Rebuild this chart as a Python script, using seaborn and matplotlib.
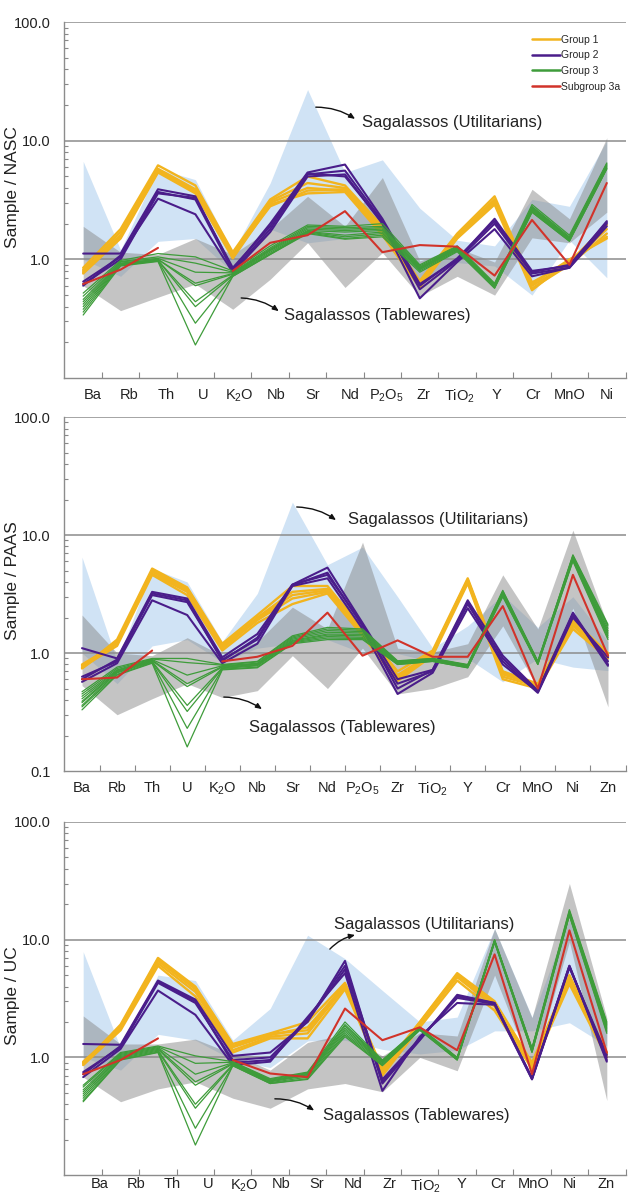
import numpy as np
import pandas as pd
import matplotlib
matplotlib.use('Agg')
import matplotlib.pyplot as plt
import seaborn as sns
from matplotlib.lines import Line2D

# --- element lists (one per normalisation) ---
el_nasc = ['Ba', 'Rb', 'Th', 'U', 'K2O', 'Nb', 'Sr', 'Nd', 'P2O5', 'Zr', 'TiO2', 'Y', 'Cr', 'MnO', 'Ni']
el_paas = ['Ba', 'Rb', 'Th', 'U', 'K2O', 'Nb', 'Sr', 'Nd', 'P2O5', 'Zr', 'TiO2', 'Y', 'Cr', 'MnO', 'Ni', 'Zn']
el_uc = ['Ba', 'Rb', 'Th', 'U', 'K2O', 'Nb', 'Sr', 'Nd', 'Zr', 'TiO2', 'Y', 'Cr', 'MnO', 'Ni', 'Zn']

tick_names = {'K2O': r'$\mathrm{K_2O}$', 'P2O5': r'$\mathrm{P_2O_5}$', 'TiO2': r'$\mathrm{TiO_2}$'}

nan = np.nan

# --- reference fields (Sagalassos) ---
util_hi_nasc = [6.7, 1.2, 5.8, 4.7, 1.15, 4.4, 27, 5.4, 6.9, 2.7, 1.45, 1.3, 3.2, 2.8, 10.0]
util_lo_nasc = [1.0, 0.72, 1.42, 1.5, 0.78, 1.8, 1.38, 1.5, 1.7, 0.66, 0.94, 0.88, 0.5, 1.45, 0.7]
table_hi_nasc = [1.9, 1.15, 1.1, 1.5, 1.1, 1.8, 3.4, 1.9, 4.9, 0.97, 1.25, 0.95, 3.9, 2.2, 10.6]
table_lo_nasc = [0.6, 0.37, 0.48, 0.62, 0.38, 0.68, 1.38, 0.58, 1.14, 0.49, 0.72, 0.5, 1.52, 1.38, 2.5]

util_hi_paas = [6.5, 0.85, 5.2, 4.0, 1.25, 3.2, 19, 5.6, 7.9, 3.0, 1.1, 1.7, 3.1, 1.65, 3.0, 1.25]
util_lo_paas = [1.0, 0.55, 1.15, 1.3, 0.84, 1.1, 1.2, 1.3, 1.0, 0.99, 0.84, 0.9, 0.57, 0.9, 0.76, 0.71]
table_hi_paas = [2.1, 1.0, 0.95, 1.35, 0.95, 1.25, 2.45, 1.6, 8.7, 1.1, 1.02, 1.2, 4.6, 1.6, 11, 1.7]
table_lo_paas = [0.53, 0.3, 0.41, 0.55, 0.42, 0.48, 0.95, 0.5, 1.1, 0.45, 0.5, 0.63, 1.7, 0.5, 2.4, 0.35]

util_hi_uc = [7.9, 1.2, 5.0, 4.5, 1.4, 2.6, 10.9, 6.9, 3.7, 2.0, 2.2, 12.4, 2.2, 15, 2.0]
util_lo_uc = [1.0, 0.78, 1.57, 1.4, 0.95, 0.82, 1.38, 1.4, 1.17, 1.07, 1.15, 1.68, 1.68, 1.97, 1.25]
table_hi_uc = [2.25, 1.3, 1.3, 1.43, 1.07, 0.78, 1.34, 1.57, 1.03, 1.62, 1.52, 12.4, 2.17, 30, 2.17]
table_lo_uc = [0.68, 0.42, 0.54, 0.62, 0.45, 0.37, 0.54, 0.6, 0.51, 1.0, 0.77, 5.0, 0.77, 9.6, 0.43]

# --- samples, NASC normalised ---
g1_nasc = [
    [0.85, 1.8, 6.2, 4.2, 1.15, 3.2, 5.0, 4.2, 1.9, 0.66, 1.65, 3.4, 0.64, 0.95, 1.95],
    [0.80, 1.7, 5.8, 3.9, 1.10, 3.1, 4.4, 4.0, 1.8, 0.62, 1.60, 3.2, 0.60, 0.92, 1.80],
    [0.78, 1.6, 5.5, 3.7, 1.05, 3.0, 4.0, 3.8, 1.7, 0.60, 1.55, 3.0, 0.57, 0.90, 1.65],
    [0.76, 1.5, 5.4, 3.6, 1.02, 2.9, 3.6, 3.7, 1.6, 0.58, 1.50, 2.9, 0.55, 0.97, 1.55],
    [0.82, 1.55, 5.6, 3.8, 1.08, 2.8, 3.8, 3.9, 1.75, 0.64, 1.52, 3.1, 0.62, 1.0, 1.50],
]
g2_nasc = [
    [1.12, 1.12, 3.9, 3.4, 0.82, 2.0, 5.4, 6.3, 2.2, 0.62, 1.0, 2.2, 0.80, 0.88, 2.1],
    [0.65, 1.05, 3.7, 3.2, 0.80, 1.8, 5.2, 5.6, 2.1, 0.56, 0.98, 2.0, 0.76, 0.85, 2.0],
    [0.60, 1.08, 3.25, 2.4, 0.78, 1.7, 5.0, 5.2, 2.0, 0.47, 0.95, 1.8, 0.72, 0.85, 1.9],
    [0.62, 1.00, 3.6, 3.3, 0.85, 1.9, 5.3, 5.0, 2.05, 0.60, 1.02, 2.1, 0.78, 0.90, 2.05],
]
g3_nasc = [
    [0.52, 0.98, 1.12, 1.05, 0.80, 1.30, 1.95, 1.90, 2.00, 0.90, 1.30, 0.63, 2.90, 1.60, 6.5],
    [0.49, 0.96, 1.05, 0.93, 0.78, 1.25, 1.90, 1.85, 1.90, 0.88, 1.28, 0.62, 2.80, 1.55, 6.4],
    [0.46, 0.95, 1.02, 0.78, 0.77, 1.22, 1.85, 1.80, 1.85, 0.86, 1.26, 0.61, 2.75, 1.52, 6.3],
    [0.44, 0.93, 1.00, 0.63, 0.76, 1.20, 1.80, 1.75, 1.80, 0.85, 1.25, 0.60, 2.70, 1.50, 6.2],
    [0.42, 0.92, 1.00, 0.60, 0.75, 1.18, 1.75, 1.70, 1.75, 0.84, 1.24, 0.60, 2.65, 1.48, 6.1],
    [0.40, 0.91, 0.98, 0.44, 0.74, 1.15, 1.72, 1.60, 1.70, 0.83, 1.22, 0.59, 2.60, 1.46, 6.0],
    [0.38, 0.90, 0.98, 0.40, 0.73, 1.12, 1.70, 1.55, 1.65, 0.82, 1.20, 0.58, 2.55, 1.45, 5.9],
    [0.36, 0.89, 0.97, 0.29, 0.72, 1.10, 1.68, 1.50, 1.60, 0.80, 1.18, 0.58, 2.50, 1.43, 5.8],
    [0.34, 0.88, 0.96, 0.19, 0.72, 1.10, 1.65, 1.48, 1.55, 0.78, 1.16, 0.57, 2.50, 1.42, 5.8],
]
g3a_nasc = [[0.62, 0.82, 1.25, nan, 0.80, 1.38, 1.6, 2.55, 1.15, 1.32, 1.28, 0.73, 2.15, 0.90, 4.4]]

# --- samples, PAAS normalised ---
g1_paas = [
    [0.75, 1.30, 5.2, 3.6, 1.20, 2.10, 3.7, 3.7, 1.60, 0.70, 1.05, 4.3, 0.70, 0.55, 1.90, 1.00],
    [0.78, 1.25, 4.9, 3.4, 1.15, 2.00, 3.3, 3.5, 1.55, 0.65, 1.00, 4.1, 0.66, 0.53, 1.80, 0.96],
    [0.80, 1.20, 4.7, 3.3, 1.10, 1.90, 2.9, 3.3, 1.50, 0.62, 0.98, 4.0, 0.63, 0.52, 1.70, 0.93],
    [0.76, 1.15, 4.6, 3.1, 1.05, 1.80, 2.6, 3.2, 1.40, 0.58, 0.95, 3.9, 0.60, 0.50, 1.60, 0.90],
    [0.74, 1.22, 5.0, 3.5, 1.12, 1.95, 3.1, 3.4, 1.45, 0.60, 1.02, 4.2, 0.68, 0.54, 1.75, 0.95],
]
g2_paas = [
    [1.10, 0.90, 3.3, 2.9, 0.92, 1.45, 3.80, 5.3, 1.80, 0.60, 0.72, 2.8, 0.95, 0.48, 2.20, 0.80],
    [0.63, 0.85, 3.1, 2.7, 0.88, 1.30, 3.75, 4.8, 1.70, 0.55, 0.70, 2.6, 0.90, 0.47, 2.10, 0.85],
    [0.57, 0.82, 2.8, 2.1, 0.82, 1.20, 3.70, 4.3, 1.60, 0.45, 0.68, 2.4, 0.85, 0.46, 2.00, 0.92],
    [0.60, 0.88, 3.2, 2.8, 0.86, 1.35, 3.80, 4.6, 1.75, 0.50, 0.72, 2.7, 0.80, 0.47, 2.15, 0.78],
]
g3_paas = [
    [0.47, 0.76, 0.90, 0.90, 0.80, 0.85, 1.40, 1.65, 1.60, 0.86, 0.90, 0.80, 3.4, 0.85, 6.8, 1.75],
    [0.45, 0.74, 0.89, 0.83, 0.79, 0.84, 1.37, 1.60, 1.56, 0.85, 0.90, 0.79, 3.35, 0.85, 6.7, 1.70],
    [0.43, 0.72, 0.88, 0.65, 0.78, 0.82, 1.34, 1.55, 1.52, 0.84, 0.89, 0.79, 3.3, 0.84, 6.6, 1.62],
    [0.41, 0.71, 0.87, 0.55, 0.77, 0.81, 1.31, 1.50, 1.48, 0.83, 0.88, 0.78, 3.25, 0.83, 6.5, 1.55],
    [0.39, 0.70, 0.86, 0.52, 0.76, 0.80, 1.28, 1.45, 1.44, 0.83, 0.88, 0.77, 3.2, 0.83, 6.4, 1.50],
    [0.38, 0.69, 0.85, 0.36, 0.75, 0.79, 1.26, 1.42, 1.40, 0.82, 0.87, 0.77, 3.15, 0.82, 6.3, 1.45],
    [0.36, 0.68, 0.84, 0.32, 0.74, 0.78, 1.24, 1.38, 1.36, 0.81, 0.86, 0.76, 3.1, 0.81, 6.2, 1.40],
    [0.35, 0.66, 0.83, 0.23, 0.73, 0.76, 1.22, 1.34, 1.33, 0.80, 0.85, 0.75, 3.05, 0.80, 6.1, 1.35],
    [0.33, 0.65, 0.82, 0.16, 0.72, 0.75, 1.20, 1.30, 1.30, 0.80, 0.85, 0.75, 3.0, 0.80, 6.0, 1.30],
]
g3a_paas = [[0.60, 0.62, 1.05, nan, 0.85, 0.93, 1.15, 2.2, 0.95, 1.28, 0.93, 0.93, 2.5, 0.50, 4.6, 0.95]]

# --- samples, UC normalised ---
g1_uc = [
    [0.88, 1.90, 7.0, 4.0, 1.30, 1.60, 2.00, 4.3, 0.80, 2.00, 5.2, 3.00, 0.90, 5.0, 1.10],
    [0.90, 1.80, 6.6, 3.8, 1.22, 1.55, 1.80, 4.1, 0.76, 1.95, 5.0, 2.85, 0.87, 4.7, 1.07],
    [0.92, 1.75, 6.3, 3.6, 1.15, 1.50, 1.60, 4.0, 0.73, 1.90, 4.8, 2.70, 0.85, 4.5, 1.05],
    [0.86, 1.70, 6.0, 3.3, 1.10, 1.45, 1.45, 3.8, 0.70, 1.80, 4.5, 2.50, 0.80, 4.2, 1.00],
    [0.90, 1.85, 6.8, 3.9, 1.25, 1.58, 1.70, 4.2, 0.78, 1.98, 5.1, 2.90, 0.88, 4.8, 1.08],
]
g2_uc = [
    [1.30, 1.28, 4.5, 3.1, 1.03, 1.10, 2.00, 6.6, 0.60, 1.40, 3.4, 2.90, 0.66, 6.0, 0.92],
    [0.75, 1.22, 4.3, 2.9, 0.95, 1.00, 2.10, 6.0, 0.65, 1.45, 3.2, 2.85, 0.66, 5.9, 1.00],
    [0.68, 1.18, 3.7, 2.3, 0.86, 0.92, 2.20, 5.2, 0.52, 1.50, 2.9, 2.80, 0.65, 5.8, 1.05],
    [0.72, 1.25, 4.4, 3.0, 0.90, 0.95, 2.05, 5.6, 0.62, 1.42, 3.3, 2.90, 0.67, 6.0, 0.95],
]
g3_uc = [
    [0.58, 1.10, 1.25, 1.03, 0.92, 0.66, 0.75, 2.00, 0.95, 1.80, 1.00, 10.0, 1.20, 18.0, 2.00],
    [0.56, 1.08, 1.23, 0.89, 0.91, 0.65, 0.74, 1.90, 0.94, 1.79, 0.99, 9.9, 1.19, 17.6, 1.95],
    [0.53, 1.06, 1.21, 0.72, 0.90, 0.64, 0.73, 1.85, 0.93, 1.78, 0.99, 9.8, 1.18, 17.2, 1.90],
    [0.51, 1.04, 1.19, 0.62, 0.89, 0.63, 0.72, 1.78, 0.92, 1.76, 0.98, 9.8, 1.17, 17.0, 1.85],
    [0.49, 1.02, 1.17, 0.58, 0.88, 0.63, 0.71, 1.72, 0.91, 1.75, 0.98, 9.7, 1.15, 16.8, 1.80],
    [0.47, 1.00, 1.15, 0.40, 0.87, 0.62, 0.70, 1.66, 0.90, 1.74, 0.97, 9.7, 1.14, 16.6, 1.75],
    [0.45, 0.98, 1.13, 0.37, 0.86, 0.61, 0.68, 1.60, 0.88, 1.72, 0.96, 9.6, 1.12, 16.4, 1.70],
    [0.43, 0.96, 1.11, 0.25, 0.85, 0.60, 0.66, 1.55, 0.86, 1.71, 0.95, 9.5, 1.11, 16.2, 1.65],
    [0.42, 0.95, 1.10, 0.18, 0.85, 0.60, 0.65, 1.50, 0.85, 1.70, 0.95, 9.5, 1.10, 16.0, 1.60],
]
g3a_uc = [[0.72, 0.95, 1.45, nan, 0.95, 0.73, 0.68, 2.6, 1.40, 1.80, 1.15, 7.5, 0.72, 12.0, 1.10]]

group_names = ['Group 1', 'Group 2', 'Group 3', 'Subgroup 3a']
colors = {'Group 1': '#F2B41E', 'Group 2': '#4A1D8A', 'Group 3': '#3E9C3A', 'Subgroup 3a': '#D1332A'}
widths = {'Group 1': 1.7, 'Group 2': 1.5, 'Group 3': 0.9, 'Subgroup 3a': 1.5}


def long_form(groups):
    # one row per point; a NaN splits a sample into separate segments
    rows = []
    for gname, samples in zip(group_names, groups):
        for i, vals in enumerate(samples):
            seg = 0
            for k, v in enumerate(vals):
                if np.isnan(v):
                    seg += 1
                    continue
                rows.append({'x': k, 'value': v, 'group': gname, 'unit': f'{gname}-{i}-{seg}'})
    return pd.DataFrame(rows)


panels = [
    dict(elements=el_nasc, groups=[g1_nasc, g2_nasc, g3_nasc, g3a_nasc],
         util=(util_lo_nasc, util_hi_nasc), table=(table_lo_nasc, table_hi_nasc),
         ylabel='Sample / NASC', rect=[0.1017, 0.6831, 0.8849, 0.2984], label_shift=(0.26, 0.981),
         show01=False, ylab_y=0.536, legend=True, xpad=7,
         util_txt=(0.530, 0.719), util_arr=((0.448, 0.761), (0.518, 0.728)),
         table_txt=(0.391, 0.177), table_arr=((0.315, 0.225), (0.382, 0.188))),
    dict(elements=el_paas, groups=[g1_paas, g2_paas, g3_paas, g3a_paas],
         util=(util_lo_paas, util_hi_paas), table=(table_lo_paas, table_hi_paas),
         ylabel='Sample / PAAS', rect=[0.1017, 0.3537, 0.8849, 0.2967], label_shift=(0.0, 1.0),
         show01=True, ylab_y=0.537, legend=False, xpad=7,
         util_txt=(0.505, 0.712), util_arr=((0.414, 0.746), (0.484, 0.709)),
         table_txt=(0.329, 0.124), table_arr=((0.284, 0.209), (0.352, 0.175))),
    dict(elements=el_uc, groups=[g1_uc, g2_uc, g3_uc, g3a_uc],
         util=(util_lo_uc, util_hi_uc), table=(table_lo_uc, table_hi_uc),
         ylabel='Sample / UC', rect=[0.1017, 0.0150, 0.8849, 0.2960], label_shift=(0.45, 0.967),
         show01=False, ylab_y=0.508, legend=False, xpad=1.5,
         util_txt=(0.48, 0.711), util_arr=((0.473, 0.640), (0.518, 0.680)),
         table_txt=(0.461, 0.169), table_arr=((0.375, 0.216), (0.445, 0.183))),
]

sns.set_style('white')
plt.rcParams['font.family'] = ['Liberation Sans', 'DejaVu Sans']
plt.rcParams['mathtext.fontset'] = 'custom'
plt.rcParams['mathtext.rm'] = 'Liberation Sans'
plt.rcParams['mathtext.it'] = 'Liberation Sans:italic'

fig = plt.figure(figsize=(6.34, 11.93), dpi=100)

for p in panels:
    ax = fig.add_axes(p['rect'])
    n = len(p['elements'])
    x = np.arange(n)

    # reference fields
    ax.fill_between(x, p['util'][0], p['util'][1], color='#D0E3F5', lw=0, zorder=1)
    ax.fill_between(x, p['table'][0], p['table'][1], color='#8A8A8A', alpha=0.5, lw=0, zorder=1.1)

    for yv in [1, 10, 100]:
        ax.axhline(yv, color='#8C8C8C', lw=1.1, zorder=1.5)

    df = long_form(p['groups'])
    sns.lineplot(data=df, x='x', y='value', hue='group', size='group', units='unit',
                 estimator=None, sort=False, palette=colors, sizes=widths,
                 hue_order=group_names, size_order=group_names, legend=False, ax=ax, zorder=3)

    ax.set_yscale('log')
    ax.set_ylim(0.1, 100)
    ax.set_xlim(-0.5, n - 0.5)

    # y axis
    yt = [0.1, 1, 10, 100] if p['show01'] else [1, 10, 100]
    ax.set_yticks(yt)
    ax.set_yticklabels(['0.1' if v == 0.1 else f'{v:.1f}' for v in yt], fontsize=10.5, color='#222222')
    ax.yaxis.set_minor_locator(matplotlib.ticker.LogLocator(base=10, subs=np.arange(2, 10)))
    ax.yaxis.set_minor_formatter(matplotlib.ticker.NullFormatter())
    ax.tick_params(axis='y', which='major', length=0, pad=10)
    ax.tick_params(axis='y', which='minor', direction='in', length=3, width=0.8, color='#888888', left=True)
    ax.set_ylabel(p['ylabel'], fontsize=12.5, color='#222222')
    ax.yaxis.set_label_coords(-0.079, p['ylab_y'])

    # x axis: labels on major ticks, boundary marks on minor ticks
    a, b = p['label_shift']
    ax.set_xticks([a + b * k for k in range(n)])
    ax.set_xticklabels([tick_names.get(e, e) for e in p['elements']], fontsize=10.5, color='#222222')
    ax.set_xticks(np.arange(n) + 0.5, minor=True)
    ax.tick_params(axis='x', which='major', length=0, pad=p['xpad'])
    ax.tick_params(axis='x', which='minor', direction='in', length=4, width=0.8, color='#888888', bottom=True)
    ax.set_xlabel('')

    for s in ['top', 'right']:
        ax.spines[s].set_visible(False)
    for s in ['left', 'bottom']:
        ax.spines[s].set_color('#8C8C8C')
        ax.spines[s].set_linewidth(1.0)

    # annotations
    ax.text(*p['util_txt'], 'Sagalassos (Utilitarians)', transform=ax.transAxes,
            fontsize=12, ha='left', va='center', color='#222222', zorder=5)
    ax.text(*p['table_txt'], 'Sagalassos (Tablewares)', transform=ax.transAxes,
            fontsize=12, ha='left', va='center', color='#222222', zorder=5)
    for tail, head in [p['util_arr'], p['table_arr']]:
        ax.annotate('', xy=head, xytext=tail, xycoords='axes fraction', textcoords='axes fraction',
                    arrowprops=dict(arrowstyle='-|>,head_length=0.35,head_width=0.15', color='#111111',
                                    lw=1.0, connectionstyle='arc3,rad=-0.15', shrinkA=0, shrinkB=0),
                    zorder=5)

    if p['legend']:
        handles = [Line2D([0], [0], color=colors[g], lw=1.8) for g in group_names]
        ax.legend(handles, group_names, loc='upper left', bbox_to_anchor=(0.833, 0.965),
                  frameon=False, fontsize=7.5, handlelength=2.7, handletextpad=0.1,
                  labelspacing=0.55, borderpad=0, borderaxespad=0)

fig.savefig('out.png', dpi=100)
